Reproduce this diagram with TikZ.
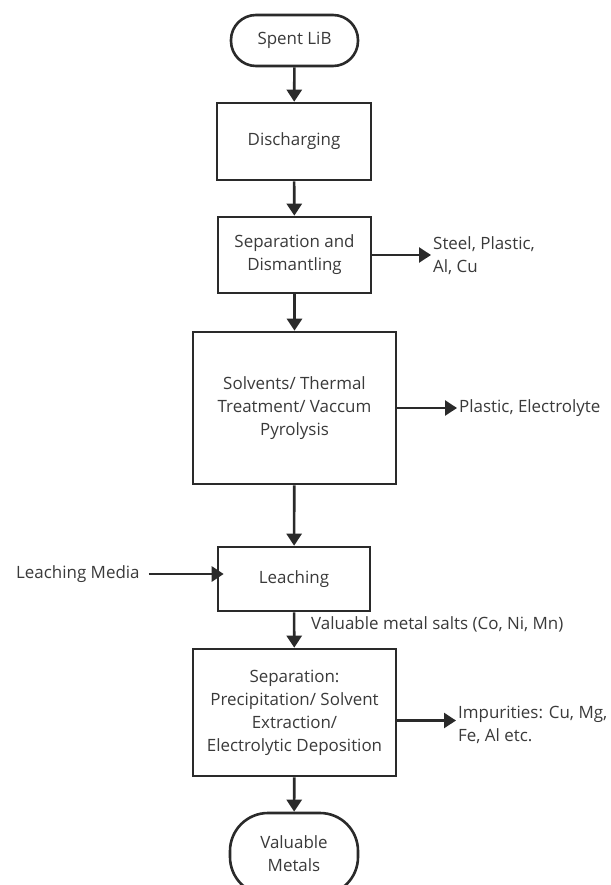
\documentclass[tikz,border=0pt]{standalone}
\usepackage{fontspec}
\setmainfont{Open Sans}
\usetikzlibrary{arrows.meta}
\definecolor{linec}{HTML}{2A2A2A}
\definecolor{textc}{HTML}{3A3A3A}
\tikzset{
  procbox/.style={draw=linec, line width=2.6bp, text=textc, align=center, inner sep=0pt, rectangle},
  termbox/.style={procbox, rounded corners=#1},
  lbl/.style={text=textc, align=left, inner sep=2bp},
  arr/.style={draw=linec, line width=2.6bp, -{Triangle[length=12bp,width=15bp]}},
}
\begin{document}
\begin{tikzpicture}[x=1bp,y=-1bp,font=\fontsize{17}{23}\selectfont]
\useasboundingbox[fill=white] (0,0) rectangle (611,885);
\node[termbox=25bp, minimum width=127bp, minimum height=51bp] (spent) at (294.5,40.5) {Spent LiB};
\node[procbox, minimum width=154bp, minimum height=77bp] (dis) at (294,141.5) {Discharging};
\node[procbox, minimum width=153bp, minimum height=76bp] (sep) at (294.5,255) {Separation and\\Dismantling};
\node[procbox, minimum width=203bp, minimum height=152bp] (solv) at (294.5,408) {Solvents/ Thermal\\Treatment/ Vaccum\\Pyrolysis};
\node[procbox, minimum width=152bp, minimum height=64bp] (leach) at (294,579) {Leaching};
\node[procbox, minimum width=203bp, minimum height=127bp] (sepm) at (294.5,712.5) {Separation:\\Precipitation/ Solvent\\Extraction/\\Electrolytic Deposition};
\node[termbox=38bp, minimum width=128bp, minimum height=82bp] (val) at (294,854) {Valuable\\Metals};

\node[lbl, anchor=west] (steel) at (431,256) {Steel, Plastic,\\Al, Cu};
\node[lbl, anchor=west] (plast) at (457,408) {Plastic, Electrolyte};
\node[lbl, anchor=west] (imp) at (456,725) {Impurities: Cu, Mg,\\Fe, Al etc.};
\node[lbl, anchor=west] (media) at (14,574) {Leaching Media};
\node[lbl, anchor=west] (salts) at (309,624) {Valuable metal salts (Co, Ni, Mn)};

\draw[arr] (spent) -- (dis);
\draw[arr] (dis) -- (sep);
\draw[arr] (sep) -- (solv);
\draw[arr] (solv) -- (leach);
\draw[arr] (leach) -- (sepm);
\draw[arr] (sepm) -- (val);
\draw[arr] (sep.east) -- (sep.east -| steel.west);
\draw[arr] (solv.east) -- (plast.west);
\draw[arr] ([yshift=-8bp]sepm.east) -- ([yshift=-8bp]sepm.east -| imp.west);
\draw[arr] ([xshift=7bp]media.east) -- ([xshift=7bp]media.east -| leach.west);
\end{tikzpicture}
\end{document}
